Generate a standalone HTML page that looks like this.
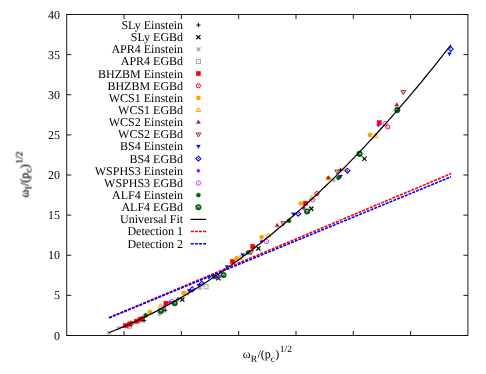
<!DOCTYPE html>
<html><head><meta charset="utf-8"><title>plot</title>
<style>html,body{margin:0;padding:0;background:#fff;}svg{display:block;}text{text-rendering:geometricPrecision;}g.tx{will-change:transform;}text{font-family:"Liberation Serif",serif;}</style>
</head><body>
<svg width="486" height="374" viewBox="0 0 486 374">
<rect x="0" y="0" width="486" height="374" fill="#ffffff"/>
<path d="M106.80 332.70H111.00M108.90 330.60V334.80M106.80 330.60L111.00 334.80M106.80 334.80L111.00 330.60" stroke="#a8a8a8" stroke-width="1" fill="none"/>
<path d="M116.50 328.10H120.70M118.60 326.00V330.20M116.50 326.00L120.70 330.20M116.50 330.20L120.70 326.00" stroke="#a8a8a8" stroke-width="1" fill="none"/>
<rect x="127.50" y="324.10" width="4.20" height="4.20" stroke="#a8a8a8" stroke-width="1" fill="none"/><rect x="129.10" y="325.70" width="1" height="1" fill="#a8a8a8"/>
<rect x="123.20" y="323.60" width="4.20" height="4.20" fill="#ff0000" stroke="#ff0000" stroke-width="0.5"/>
<circle cx="128.20" cy="324.90" r="2.10" stroke="#ff0000" stroke-width="1" fill="none"/><rect x="127.70" y="324.40" width="1" height="1" fill="#ff0000"/>
<rect x="127.80" y="321.90" width="4.20" height="4.20" fill="#ff0000" stroke="#ff0000" stroke-width="0.5"/>
<circle cx="131.40" cy="323.20" r="2.10" stroke="#ff0000" stroke-width="1" fill="none"/><rect x="130.90" y="322.70" width="1" height="1" fill="#ff0000"/>
<rect x="134.50" y="319.10" width="4.20" height="4.20" fill="#ff0000" stroke="#ff0000" stroke-width="0.5"/>
<circle cx="139.00" cy="320.20" r="2.10" stroke="#ff0000" stroke-width="1" fill="none"/><rect x="138.50" y="319.70" width="1" height="1" fill="#ff0000"/>
<rect x="138.70" y="317.10" width="4.20" height="4.20" fill="#ff0000" stroke="#ff0000" stroke-width="0.5"/>
<circle cx="142.30" cy="318.40" r="2.10" stroke="#ff0000" stroke-width="1" fill="none"/><rect x="141.80" y="317.90" width="1" height="1" fill="#ff0000"/>
<path d="M141.90 320.60H146.10M144.00 318.50V322.70" stroke="#000" stroke-width="1" fill="none"/>
<path d="M145.70 313.00L147.89 314.59L147.05 317.16L144.35 317.16L143.51 314.59Z" fill="#006400" stroke="#006400" stroke-width="0.5"/>
<circle cx="149.80" cy="312.00" r="2.40" fill="#ffa500"/>
<path d="M157.40 314.00H161.60M159.50 311.90V316.10M157.40 311.90L161.60 316.10M157.40 316.10L161.60 311.90" stroke="#a8a8a8" stroke-width="1" fill="none"/>
<circle cx="160.90" cy="311.00" r="2.10" stroke="#006400" stroke-width="1.9" fill="none"/><circle cx="160.90" cy="311.50" r="0.9" fill="#006400"/>
<path d="M163.10 310.30H167.30M165.20 308.20V312.40" stroke="#000" stroke-width="1" fill="none"/>
<path d="M164.00 304.80L166.20 307.00L164.00 309.20L161.80 307.00Z" fill="#a010f0"/>
<path d="M175.90 299.20H180.10M178.00 297.10V301.30" stroke="#000" stroke-width="1" fill="none"/>
<path d="M160.50 303.70L162.90 307.80L158.10 307.80Z" stroke="#ffa500" stroke-width="1" fill="none"/><rect x="160.00" y="305.90" width="1" height="1" fill="#ffa500"/>
<rect x="163.90" y="301.20" width="4.20" height="4.20" fill="#ff0000" stroke="#ff0000" stroke-width="0.5"/>
<path d="M170.00 300.00L172.20 302.20L170.00 304.40L167.80 302.20Z" fill="#a010f0"/>
<path d="M172.00 299.10L174.38 300.83L173.47 303.62L170.53 303.62L169.62 300.83Z" stroke="#c040ff" stroke-width="1.0" fill="none"/><rect x="171.50" y="301.00" width="1" height="1" fill="#c050ff"/>
<circle cx="174.70" cy="303.30" r="2.10" stroke="#006400" stroke-width="1.9" fill="none"/><circle cx="174.70" cy="303.80" r="0.9" fill="#006400"/>
<path d="M180.20 297.50L184.40 301.70M180.20 301.70L184.40 297.50" stroke="#000" stroke-width="1.2" fill="none"/>
<circle cx="183.60" cy="293.00" r="2.40" fill="#ffa500"/>
<path d="M186.50 290.80L188.90 294.90L184.10 294.90Z" stroke="#ffa500" stroke-width="1" fill="none"/><rect x="186.00" y="293.00" width="1" height="1" fill="#ffa500"/>
<path d="M189.20 292.80L191.20 289.30L187.20 289.30Z" fill="#0000ff" stroke="#0000ff" stroke-width="0.3"/>
<path d="M192.40 286.75L194.85 289.20L192.40 291.65L189.95 289.20Z" stroke="#0000ff" stroke-width="1.05" fill="none"/><rect x="191.90" y="288.70" width="1" height="1" fill="#0000ff"/>
<path d="M198.80 287.40L200.80 283.90L196.80 283.90Z" fill="#0000ff" stroke="#0000ff" stroke-width="0.3"/>
<path d="M201.80 281.15L204.25 283.60L201.80 286.05L199.35 283.60Z" stroke="#0000ff" stroke-width="1.05" fill="none"/><rect x="201.30" y="283.10" width="1" height="1" fill="#0000ff"/>
<path d="M197.90 288.00H202.10M200.00 285.90V290.10M197.90 285.90L202.10 290.10M197.90 290.10L202.10 285.90" stroke="#a8a8a8" stroke-width="1" fill="none"/>
<rect x="203.90" y="284.60" width="4.20" height="4.20" stroke="#a8a8a8" stroke-width="1" fill="none"/><rect x="205.50" y="286.20" width="1" height="1" fill="#a8a8a8"/>
<path d="M209.00 279.60L211.00 276.10L207.00 276.10Z" fill="#0000ff" stroke="#0000ff" stroke-width="0.3"/>
<path d="M213.20 279.10L215.20 275.60L211.20 275.60Z" fill="#0000ff" stroke="#0000ff" stroke-width="0.3"/>
<path d="M216.50 272.85L218.95 275.30L216.50 277.75L214.05 275.30Z" stroke="#0000ff" stroke-width="1.05" fill="none"/><rect x="216.00" y="274.80" width="1" height="1" fill="#0000ff"/>
<path d="M216.30 276.20L220.50 280.40M216.30 280.40L220.50 276.20" stroke="#000" stroke-width="1.2" fill="none"/>
<path d="M219.10 274.60L221.30 276.80L219.10 279.00L216.90 276.80Z" fill="#a010f0"/>
<circle cx="223.50" cy="275.00" r="2.10" stroke="#006400" stroke-width="1.9" fill="none"/><circle cx="223.50" cy="275.50" r="0.9" fill="#006400"/>
<path d="M215.00 274.70L217.19 276.29L216.35 278.86L213.65 278.86L212.81 276.29Z" fill="#006400" stroke="#006400" stroke-width="0.5"/>
<path d="M227.00 269.10L229.00 265.60L225.00 265.60Z" fill="#0000ff" stroke="#0000ff" stroke-width="0.3"/>
<rect x="230.40" y="259.40" width="4.20" height="4.20" fill="#ff0000" stroke="#ff0000" stroke-width="0.5"/>
<circle cx="236.50" cy="258.50" r="2.40" fill="#ffa500"/>
<path d="M240.00 255.30L242.40 259.40L237.60 259.40Z" stroke="#ffa500" stroke-width="1" fill="none"/><rect x="239.50" y="257.50" width="1" height="1" fill="#ffa500"/>
<path d="M242.60 256.90L244.60 253.40L240.60 253.40Z" fill="#0000ff" stroke="#0000ff" stroke-width="0.3"/>
<path d="M248.00 250.20L250.19 251.79L249.35 254.36L246.65 254.36L245.81 251.79Z" fill="#006400" stroke="#006400" stroke-width="0.5"/>
<path d="M251.00 254.70L253.40 250.60L248.60 250.60Z" stroke="#b22222" stroke-width="1" fill="none"/><rect x="250.50" y="251.50" width="1" height="1" fill="#b22222"/>
<rect x="250.70" y="244.40" width="4.20" height="4.20" fill="#ff0000" stroke="#ff0000" stroke-width="0.5"/>
<path d="M256.30 246.30L260.50 250.50M256.30 250.50L260.50 246.30" stroke="#000" stroke-width="1.2" fill="none"/>
<circle cx="261.60" cy="237.10" r="2.40" fill="#ffa500"/>
<path d="M268.40 232.90L270.80 237.00L266.00 237.00Z" stroke="#ffa500" stroke-width="1" fill="none"/><rect x="267.90" y="235.10" width="1" height="1" fill="#ffa500"/>
<path d="M261.60 239.20L263.80 241.40L261.60 243.60L259.40 241.40Z" fill="#a010f0"/>
<path d="M266.50 239.00L268.88 240.73L267.97 243.52L265.03 243.52L264.12 240.73Z" stroke="#c040ff" stroke-width="1.0" fill="none"/><rect x="266.00" y="240.90" width="1" height="1" fill="#c050ff"/>
<path d="M277.20 223.10L279.40 226.80L275.00 226.80Z" fill="#b22222" stroke="#b22222" stroke-width="0.3"/>
<path d="M283.30 225.80L285.70 221.70L280.90 221.70Z" stroke="#b22222" stroke-width="1" fill="none"/><rect x="282.80" y="222.60" width="1" height="1" fill="#b22222"/>
<path d="M289.00 218.50L291.19 220.09L290.35 222.66L287.65 222.66L286.81 220.09Z" fill="#006400" stroke="#006400" stroke-width="0.5"/>
<path d="M293.40 216.20L295.40 212.70L291.40 212.70Z" fill="#0000ff" stroke="#0000ff" stroke-width="0.3"/>
<path d="M298.30 211.25L300.75 213.70L298.30 216.15L295.85 213.70Z" stroke="#0000ff" stroke-width="1.05" fill="none"/><rect x="297.80" y="213.20" width="1" height="1" fill="#0000ff"/>
<circle cx="300.90" cy="203.60" r="2.40" fill="#ffa500"/>
<rect x="303.50" y="201.10" width="4.20" height="4.20" fill="#ff0000" stroke="#ff0000" stroke-width="0.5"/>
<circle cx="307.10" cy="211.50" r="2.10" stroke="#006400" stroke-width="1.9" fill="none"/><circle cx="307.10" cy="212.00" r="0.9" fill="#006400"/>
<path d="M308.90 208.30H313.10M311.00 206.20V210.40M308.90 206.20L313.10 210.40M308.90 210.40L313.10 206.20" stroke="#a8a8a8" stroke-width="1" fill="none"/>
<path d="M309.20 206.70L313.40 210.90M309.20 210.90L313.40 206.70" stroke="#000" stroke-width="1.2" fill="none"/>
<path d="M303.70 205.80L305.90 208.00L303.70 210.20L301.50 208.00Z" fill="#a010f0"/>
<path d="M312.70 197.30L315.08 199.03L314.17 201.82L311.23 201.82L310.32 199.03Z" stroke="#c040ff" stroke-width="1.0" fill="none"/><rect x="312.20" y="199.20" width="1" height="1" fill="#c050ff"/>
<path d="M311.40 195.50L313.80 199.60L309.00 199.60Z" stroke="#ffa500" stroke-width="1" fill="none"/><rect x="310.90" y="197.70" width="1" height="1" fill="#ffa500"/>
<circle cx="316.90" cy="193.70" r="2.10" stroke="#ff0000" stroke-width="1" fill="none"/><rect x="316.40" y="193.20" width="1" height="1" fill="#ff0000"/>
<path d="M331.40 180.00H335.60M333.50 177.90V182.10M331.40 177.90L335.60 182.10M331.40 182.10L335.60 177.90" stroke="#a8a8a8" stroke-width="1" fill="none"/>
<circle cx="328.40" cy="178.40" r="2.40" fill="#ffa500"/>
<path d="M328.40 175.40L330.60 179.10L326.20 179.10Z" fill="#b22222" stroke="#b22222" stroke-width="0.3"/>
<path d="M338.40 175.50L340.59 177.09L339.75 179.66L337.05 179.66L336.21 177.09Z" fill="#006400" stroke="#006400" stroke-width="0.5"/>
<path d="M340.60 178.60L342.60 175.10L338.60 175.10Z" fill="#0000ff" stroke="#0000ff" stroke-width="0.3"/>
<path d="M337.20 174.10L339.60 170.00L334.80 170.00Z" stroke="#b22222" stroke-width="1" fill="none"/><rect x="336.70" y="170.90" width="1" height="1" fill="#b22222"/>
<path d="M338.50 170.00H342.70M340.60 167.90V172.10" stroke="#000" stroke-width="1" fill="none"/>
<path d="M344.70 166.80L347.10 170.90L342.30 170.90Z" stroke="#ffa500" stroke-width="1" fill="none"/><rect x="344.20" y="169.00" width="1" height="1" fill="#ffa500"/>
<path d="M347.50 168.25L349.95 170.70L347.50 173.15L345.05 170.70Z" stroke="#0000ff" stroke-width="1.05" fill="none"/><rect x="347.00" y="170.20" width="1" height="1" fill="#0000ff"/>
<circle cx="359.60" cy="153.90" r="2.10" stroke="#006400" stroke-width="1.9" fill="none"/><circle cx="359.60" cy="154.40" r="0.9" fill="#006400"/>
<path d="M362.30 156.70L366.50 160.90M362.30 160.90L366.50 156.70" stroke="#000" stroke-width="1.2" fill="none"/>
<circle cx="370.00" cy="134.90" r="2.40" fill="#ffa500"/>
<path d="M375.60 133.50L378.00 137.60L373.20 137.60Z" stroke="#ffa500" stroke-width="1" fill="none"/><rect x="375.10" y="135.70" width="1" height="1" fill="#ffa500"/>
<rect x="377.10" y="120.60" width="4.20" height="4.20" fill="#ff0000" stroke="#ff0000" stroke-width="0.5"/>
<path d="M378.40 122.80L380.60 125.00L378.40 127.20L376.20 125.00Z" fill="#a010f0"/>
<path d="M385.00 121.10L387.38 122.83L386.47 125.62L383.53 125.62L382.62 122.83Z" stroke="#c040ff" stroke-width="1.0" fill="none"/><rect x="384.50" y="123.00" width="1" height="1" fill="#c050ff"/>
<circle cx="387.80" cy="126.90" r="2.10" stroke="#ff0000" stroke-width="1" fill="none"/><rect x="387.30" y="126.40" width="1" height="1" fill="#ff0000"/>
<circle cx="397.30" cy="110.10" r="2.10" stroke="#006400" stroke-width="1.9" fill="none"/><circle cx="397.30" cy="110.60" r="0.9" fill="#006400"/>
<path d="M396.80 102.60L399.00 106.30L394.60 106.30Z" fill="#b22222" stroke="#b22222" stroke-width="0.3"/>
<path d="M403.30 94.70L405.70 90.60L400.90 90.60Z" stroke="#b22222" stroke-width="1" fill="none"/><rect x="402.80" y="91.50" width="1" height="1" fill="#b22222"/>
<path d="M450.80 46.55L453.25 49.00L450.80 51.45L448.35 49.00Z" stroke="#0000ff" stroke-width="1.05" fill="none"/><rect x="450.30" y="48.50" width="1" height="1" fill="#0000ff"/>
<path d="M449.50 56.10L451.50 52.60L447.50 52.60Z" fill="#0000ff" stroke="#0000ff" stroke-width="0.3"/>
<path d="M108.80 332.76L113.13 331.04L117.46 329.26L121.79 327.44L126.13 325.57L130.46 323.65L134.79 321.68L139.12 319.67L143.45 317.60L147.78 315.48L152.12 313.32L156.45 311.10L160.78 308.84L165.11 306.52L169.44 304.16L173.77 301.75L178.11 299.28L182.44 296.77L186.77 294.21L191.10 291.60L195.43 288.95L199.76 286.24L204.10 283.48L208.43 280.67L212.76 277.82L217.09 274.91L221.42 271.96L225.75 268.95L230.09 265.90L234.42 262.80L238.75 259.65L243.08 256.45L247.41 253.20L251.74 249.90L256.08 246.55L260.41 243.15L264.74 239.70L269.07 236.21L273.40 232.66L277.73 229.07L282.07 225.42L286.40 221.73L290.73 217.99L295.06 214.20L299.39 210.35L303.72 206.46L308.06 202.52L312.39 198.53L316.72 194.50L321.05 190.41L325.38 186.27L329.71 182.09L334.05 177.85L338.38 173.57L342.71 169.23L347.04 164.85L351.37 160.42L355.70 155.93L360.04 151.40L364.37 146.82L368.70 142.19L373.03 137.51L377.36 132.79L381.69 128.01L386.03 123.18L390.36 118.31L394.69 113.38L399.02 108.41L403.35 103.38L407.68 98.31L412.02 93.19L416.35 88.01L420.68 82.79L425.01 77.52L429.34 72.20L433.67 66.83L438.01 61.42L442.34 55.95L446.67 50.43L451.00 44.87" stroke="#000" stroke-width="1.25" fill="none"/>
<path d="M109.10 317.60L451.10 173.60" stroke="#ff0000" stroke-width="1.6" stroke-dasharray="3 1.1" fill="none"/>
<path d="M109.10 317.90L451.10 176.80" stroke="#0000ff" stroke-width="1.6" stroke-dasharray="3 1.1" fill="none"/>
<rect x="66.75" y="14.5" width="401.18" height="321.0" fill="none" stroke="#000" stroke-width="0.9"/>
<path d="M66.75 335.50h4.5M467.93 335.50h-4.5M66.75 295.38h4.5M467.93 295.38h-4.5M66.75 255.25h4.5M467.93 255.25h-4.5M66.75 215.12h4.5M467.93 215.12h-4.5M66.75 175.00h4.5M467.93 175.00h-4.5M66.75 134.88h4.5M467.93 134.88h-4.5M66.75 94.75h4.5M467.93 94.75h-4.5M66.75 54.62h4.5M467.93 54.62h-4.5M66.75 14.50h4.5M467.93 14.50h-4.5M124.06 335.5v-4.5M124.06 14.5v4.5M181.37 335.5v-4.5M181.37 14.5v4.5M238.68 335.5v-4.5M238.68 14.5v4.5M296.00 335.5v-4.5M296.00 14.5v4.5M353.31 335.5v-4.5M353.31 14.5v4.5M410.62 335.5v-4.5M410.62 14.5v4.5" stroke="#000" stroke-width="0.9" fill="none"/>
<g class="tx">
<text x="60" y="339.50" font-size="12" text-anchor="end" fill="#000">0</text>
<text x="60" y="299.38" font-size="12" text-anchor="end" fill="#000">5</text>
<text x="60" y="259.25" font-size="12" text-anchor="end" fill="#000">10</text>
<text x="60" y="219.12" font-size="12" text-anchor="end" fill="#000">15</text>
<text x="60" y="179.00" font-size="12" text-anchor="end" fill="#000">20</text>
<text x="60" y="138.88" font-size="12" text-anchor="end" fill="#000">25</text>
<text x="60" y="98.75" font-size="12" text-anchor="end" fill="#000">30</text>
<text x="60" y="58.62" font-size="12" text-anchor="end" fill="#000">35</text>
<text x="60" y="18.50" font-size="12" text-anchor="end" fill="#000">40</text>
<text x="183.1" y="28.90" font-size="12" text-anchor="end" fill="#000">SLy Einstein</text>
<path d="M196.30 25.00H200.50M198.40 22.90V27.10" stroke="#000" stroke-width="1" fill="none"/>
<text x="183.1" y="41.05" font-size="12" text-anchor="end" fill="#000">SLy EGBd</text>
<path d="M196.30 35.05L200.50 39.25M196.30 39.25L200.50 35.05" stroke="#000" stroke-width="1.2" fill="none"/>
<text x="183.1" y="53.20" font-size="12" text-anchor="end" fill="#000">APR4 Einstein</text>
<path d="M196.30 49.30H200.50M198.40 47.20V51.40M196.30 47.20L200.50 51.40M196.30 51.40L200.50 47.20" stroke="#a8a8a8" stroke-width="1" fill="none"/>
<text x="183.1" y="65.35" font-size="12" text-anchor="end" fill="#000">APR4 EGBd</text>
<rect x="196.30" y="59.35" width="4.20" height="4.20" stroke="#a8a8a8" stroke-width="1" fill="none"/><rect x="197.90" y="60.95" width="1" height="1" fill="#a8a8a8"/>
<text x="183.1" y="77.50" font-size="12" text-anchor="end" fill="#000">BHZBM Einstein</text>
<rect x="196.30" y="71.50" width="4.20" height="4.20" fill="#ff0000" stroke="#ff0000" stroke-width="0.5"/>
<text x="183.1" y="89.65" font-size="12" text-anchor="end" fill="#000">BHZBM EGBd</text>
<circle cx="198.40" cy="85.75" r="2.10" stroke="#ff0000" stroke-width="1" fill="none"/><rect x="197.90" y="85.25" width="1" height="1" fill="#ff0000"/>
<text x="183.1" y="101.80" font-size="12" text-anchor="end" fill="#000">WCS1 Einstein</text>
<circle cx="198.40" cy="97.90" r="2.40" fill="#ffa500"/>
<text x="183.1" y="113.95" font-size="12" text-anchor="end" fill="#000">WCS1 EGBd</text>
<path d="M198.40 107.35L200.80 111.45L196.00 111.45Z" stroke="#ffa500" stroke-width="1" fill="none"/><rect x="197.90" y="109.55" width="1" height="1" fill="#ffa500"/>
<text x="183.1" y="126.10" font-size="12" text-anchor="end" fill="#000">WCS2 Einstein</text>
<path d="M198.40 119.80L200.60 123.50L196.20 123.50Z" fill="#b22222" stroke="#b22222" stroke-width="0.3"/>
<text x="183.1" y="138.25" font-size="12" text-anchor="end" fill="#000">WCS2 EGBd</text>
<path d="M198.40 137.05L200.80 132.95L196.00 132.95Z" stroke="#b22222" stroke-width="1" fill="none"/><rect x="197.90" y="133.85" width="1" height="1" fill="#b22222"/>
<text x="183.1" y="150.40" font-size="12" text-anchor="end" fill="#000">BS4 Einstein</text>
<path d="M198.40 148.60L200.40 145.10L196.40 145.10Z" fill="#0000ff" stroke="#0000ff" stroke-width="0.3"/>
<text x="183.1" y="162.55" font-size="12" text-anchor="end" fill="#000">BS4 EGBd</text>
<path d="M198.40 156.20L200.85 158.65L198.40 161.10L195.95 158.65Z" stroke="#0000ff" stroke-width="1.05" fill="none"/><rect x="197.90" y="158.15" width="1" height="1" fill="#0000ff"/>
<text x="183.1" y="174.70" font-size="12" text-anchor="end" fill="#000">WSPHS3 Einstein</text>
<path d="M198.40 168.60L200.60 170.80L198.40 173.00L196.20 170.80Z" fill="#a010f0"/>
<text x="183.1" y="186.85" font-size="12" text-anchor="end" fill="#000">WSPHS3 EGBd</text>
<path d="M198.40 180.55L200.78 182.28L199.87 185.07L196.93 185.07L196.02 182.28Z" stroke="#c040ff" stroke-width="1.0" fill="none"/><rect x="197.90" y="182.45" width="1" height="1" fill="#c050ff"/>
<text x="183.1" y="199.00" font-size="12" text-anchor="end" fill="#000">ALF4 Einstein</text>
<path d="M198.40 192.80L200.59 194.39L199.75 196.96L197.05 196.96L196.21 194.39Z" fill="#006400" stroke="#006400" stroke-width="0.5"/>
<text x="183.1" y="211.15" font-size="12" text-anchor="end" fill="#000">ALF4 EGBd</text>
<circle cx="198.40" cy="207.25" r="2.10" stroke="#006400" stroke-width="1.9" fill="none"/><circle cx="198.40" cy="207.75" r="0.9" fill="#006400"/>
<text x="183.1" y="223.30" font-size="12" text-anchor="end" fill="#000">Universal Fit</text>
<path d="M190.7 219.40H206.1" stroke="#000" stroke-width="1.25"/>
<text x="183.1" y="235.45" font-size="12" text-anchor="end" fill="#000">Detection 1</text>
<path d="M190.7 231.55H206.1" stroke="#ff0000" stroke-width="1.6" stroke-dasharray="3.05 1.07"/>
<text x="183.1" y="247.60" font-size="12" text-anchor="end" fill="#000">Detection 2</text>
<path d="M190.7 243.70H206.1" stroke="#0000ff" stroke-width="1.6" stroke-dasharray="3.05 1.07"/>
</g>
<g class="tx">
<text x="242.8" y="357.6" font-size="12" fill="#000">ω<tspan font-size="9.6" dy="4.7">R</tspan><tspan dy="-4.7" dx="0.3">/(p</tspan><tspan font-size="9.6" dy="4.7">c</tspan><tspan dy="-4.7" dx="0.3">)</tspan><tspan font-size="9.6" dy="-5.3" dx="0.5">1/2</tspan></text>
<text transform="translate(28.5 197.5) rotate(-90)" font-size="12" fill="#000" stroke="#000" stroke-width="0.18">ω<tspan font-size="9.6" dy="3.3">I</tspan><tspan dy="-3.3" dx="0.3">/(p</tspan><tspan font-size="9.6" dy="3.3">c</tspan><tspan dy="-3.3" dx="0.3">)</tspan><tspan font-size="9.6" dy="-6.3" dx="0.5">1/2</tspan></text>
</g>
</svg></body></html>
